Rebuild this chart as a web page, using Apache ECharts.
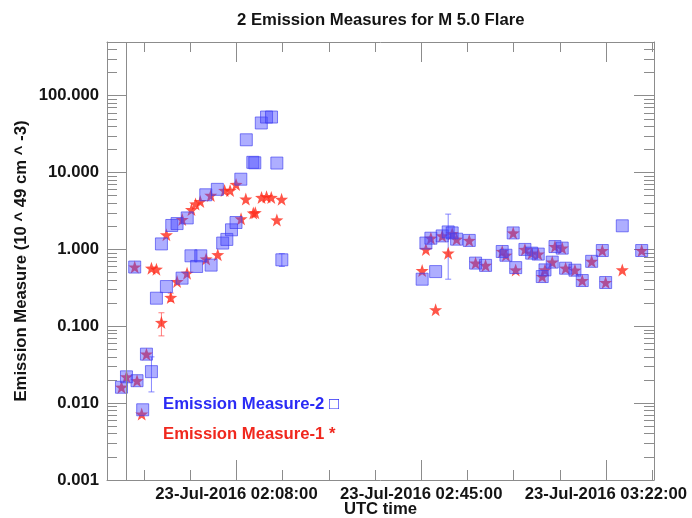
<!DOCTYPE html>
<html>
<head>
<meta charset="utf-8">
<script src="https://cdn.jsdelivr.net/npm/echarts@6/dist/echarts.min.js"></script>
<style>
  html, body { margin: 0; padding: 0; background: #ffffff; }
  #chart { width: 692px; height: 518px; }
</style>
</head>
<body>
<div id="chart"></div>
<script>
// Observation date and the UTC times of the major time ticks
const obsDate = '23-Jul-2016';
const xTickTimes = ['02:08:00', '02:45:00', '03:22:00'];
const yTickValues = [0.001, 0.01, 0.1, 1, 10, 100];

// Emission Measure-2 (squares), units of 10^49 cm^-3
const em2Times = [
  '01:44:58', '01:45:58', '01:47:37', '01:48:05', '01:49:13', '01:49:58', '01:50:58', '01:51:58',
  '01:52:58', '01:53:58', '01:55:02', '01:56:06', '01:57:06', '01:58:08', '01:58:53', '02:00:01',
  '02:00:51', '02:01:51', '02:02:55', '02:04:10', '02:05:14', '02:06:04', '02:07:00', '02:07:54',
  '02:08:52', '02:09:58', '02:11:16', '02:11:40', '02:12:58', '02:14:01', '02:15:01', '02:16:05',
  '02:17:05',
  '02:45:11', '02:45:56', '02:46:56', '02:47:53', '02:49:12', '02:50:24', '02:51:12', '02:52:05',
  '02:54:37', '02:55:53', '02:57:53', '03:01:13', '03:01:58', '03:03:25', '03:03:55', '03:05:46',
  '03:07:07', '03:08:26', '03:09:14', '03:09:47', '03:11:14', '03:11:47', '03:13:14', '03:13:55',
  '03:15:47', '03:17:15', '03:19:08', '03:21:16', '03:21:56', '03:25:16', '03:29:09'
];
const em2Values = [
  0.0161, 0.022, 0.59, 0.0196, 0.0082, 0.0434, 0.0257, 0.232,
  1.18, 0.329, 2.05, 2.17, 0.423, 2.57, 0.826, 0.60,
  0.826, 5.14, 0.625, 6.05, 1.21, 1.35, 1.80, 2.24,
  8.2, 26.7, 13.6, 13.4, 44.2, 52.8, 52.8, 13.3,
  0.733,
  0.41, 1.21, 1.40, 0.515, 1.50, 1.69, 1.64, 1.36,
  1.31, 0.664, 0.62, 0.94, 0.84, 1.64, 0.58, 1.0,
  0.895, 0.87, 0.444, 0.542, 0.684, 1.09, 1.04, 0.57,
  0.537, 0.394, 0.70, 0.968, 0.371, 2.03, 0.968
];

// Emission Measure-1 (stars), units of 10^49 cm^-3
const em1Times = [
  '01:44:58', '01:45:58', '01:47:37', '01:48:05', '01:49:01', '01:49:58', '01:50:58', '01:51:58',
  '01:52:58', '01:53:58', '01:54:50', '01:56:06', '01:57:08', '01:58:06', '01:58:59', '01:59:48',
  '02:00:45', '02:01:55', '02:02:51', '02:04:15', '02:05:37', '02:06:43', '02:07:55', '02:08:55',
  '02:09:52', '02:11:22', '02:11:46', '02:13:01', '02:14:01', '02:14:58', '02:16:05', '02:17:02',
  '02:45:11', '02:45:56', '02:46:56', '02:47:53', '02:49:12', '02:50:24', '02:51:12', '02:52:05',
  '02:54:37', '02:55:53', '02:57:53', '03:01:13', '03:01:58', '03:03:25', '03:03:55', '03:05:46',
  '03:07:07', '03:08:26', '03:09:14', '03:09:47', '03:11:14', '03:11:47', '03:13:14', '03:13:55',
  '03:15:47', '03:17:15', '03:19:08', '03:21:16', '03:21:56', '03:25:16', '03:29:09'
];
const em1Values = [
  0.0161, 0.022, 0.59, 0.0196, 0.0072, 0.0434, 0.57, 0.553,
  0.112, 1.55, 0.237, 0.382, 2.45, 0.491, 3.3, 3.9,
  4.2, 0.752, 5.05, 0.855, 5.85, 5.85, 7.0, 2.5,
  4.52, 2.97, 3.0, 4.75, 4.85, 4.75, 2.42, 4.49,
  0.53, 1.0, 1.40, 0.164, 1.50, 0.895, 1.6, 1.36,
  1.31, 0.664, 0.62, 0.94, 0.84, 1.64, 0.54, 1.0,
  0.895, 0.87, 0.444, 0.542, 0.684, 1.09, 1.04, 0.57,
  0.537, 0.394, 0.70, 0.968, 0.371, 0.542, 0.968
];

// Uncertainty ranges drawn as error bars (series: 2 = squares, 1 = stars)
const errTimes = ['01:50:58', '01:52:58', '01:54:50', '02:17:05', '02:50:24'];
const errLow = [0.014, 0.075, 0.21, 0.60, 0.41];
const errHigh = [0.040, 0.150, 0.27, 0.88, 2.88];
const errSeries = [2, 1, 1, 2, 2];

// Reference time marked with a vertical line
const flareStart = '01:45:58';

// Time axis range
const axisStart = '01:42:04';
const axisEnd = '03:31:37';

function toMin(t) {
  const p = t.split(':').map(Number);
  return p[0] * 60 + p[1] + p[2] / 60;
}
function fmtTime(m) {
  const s = Math.round(m * 60);
  const hh = Math.floor(s / 3600), mm = Math.floor((s % 3600) / 60), ss = s % 60;
  const z = n => String(n).padStart(2, '0');
  return z(hh) + ':' + z(mm) + ':' + z(ss);
}

const xMajor = xTickTimes.map(toMin);
const xStep = (xMajor[1] - xMajor[0]) / 4;
const xMin = toMin(axisStart), xMax = toMin(axisEnd);
const xMinor = [];
for (let v = xMajor[0] - 8 * xStep; v <= xMax; v += xStep) {
  if (v >= xMin && Math.abs(((v - xMajor[0]) / xStep) % 4) > 1e-6) xMinor.push(v);
}
const yMin = 0.001, yMax = 500;
const yMinor = [];
yTickValues.concat([1000]).forEach(d => {
  for (let k = 2; k <= 9; k++) {
    const v = +(d * k).toPrecision(3);
    if (v <= yMax) yMinor.push(v);
  }
});

const FONT = 'Liberation Sans, Arial, Helvetica, sans-serif';
const AX = '#8c8c8c';
const BLUE = '#2b2bf5';
const RED = '#f0281e';
const labelStyle = { fontFamily: FONT, fontWeight: 'bold', fontSize: 16.7, color: '#141414' };

function xAxisDef(position, ticks, len, lineOn, labelOn) {
  return {
    type: 'value', position, min: xMin, max: xMax,
    axisLine: { show: lineOn, onZero: false, lineStyle: { color: AX, width: 1 } },
    axisTick: { show: true, inside: true, length: len, customValues: ticks, lineStyle: { color: AX, width: 1 } },
    axisLabel: labelOn
      ? Object.assign({ show: true, customValues: ticks, margin: 6, formatter: v => obsDate + ' ' + fmtTime(v) }, labelStyle)
      : { show: false },
    splitLine: { show: false }
  };
}
function yAxisDef(position, ticks, len, lineOn, labelOn) {
  return {
    type: 'log', logBase: 10, position, min: yMin, max: yMax,
    axisLine: { show: lineOn, onZero: false, lineStyle: { color: AX, width: 1 } },
    axisTick: { show: true, inside: true, length: len, customValues: ticks, lineStyle: { color: AX, width: 1 } },
    axisLabel: labelOn
      ? Object.assign({ show: true, customValues: ticks, margin: 8, formatter: v => Number(v).toFixed(3) }, labelStyle)
      : { show: false },
    splitLine: { show: false },
    minorTick: { show: false }
  };
}

const xAxes = [
  xAxisDef('bottom', xMajor, 20, true, true),
  xAxisDef('bottom', xMinor, 10, false, false),
  xAxisDef('top', xMajor, 20, true, false),
  xAxisDef('top', xMinor, 10, false, false)
];
Object.assign(xAxes[0], {
  name: 'UTC time', nameLocation: 'middle', nameGap: 21, nameMoveOverlap: false,
  nameTextStyle: { fontFamily: FONT, fontWeight: 'bold', fontSize: 16.7, color: '#141414' }
});
const yAxes = [
  yAxisDef('left', yTickValues, 20, true, true),
  yAxisDef('left', yMinor, 10, false, false),
  yAxisDef('right', yTickValues, 20, true, false),
  yAxisDef('right', yMinor, 10, false, false)
];
Object.assign(yAxes[0], {
  name: 'Emission Measure (10 ^ 49 cm ^ -3)', nameLocation: 'middle', nameRotate: 90, nameGap: 77,
  nameMoveOverlap: false,
  nameTextStyle: { fontFamily: FONT, fontWeight: 'bold', fontSize: 16.7, color: '#141414' }
});

const STAR = 'path://M10,0L12.35,6.76L19.51,6.91L13.8,11.24L15.88,18.09L10,14L4.12,18.09L6.2,11.24L0.49,6.91L7.65,6.76Z';

const chart = echarts.init(document.getElementById('chart'), null, { renderer: 'canvas' });
chart.setOption({
  animation: false,
  backgroundColor: '#ffffff',
  title: {
    text: '2 Emission Measures for M 5.0 Flare',
    left: 237, top: 12, padding: 0,
    textStyle: { fontFamily: FONT, fontWeight: 'bold', fontSize: 16.7, color: '#141414' }
  },
  grid: { left: 107, right: 38, top: 42, bottom: 38, containLabel: false, outerBoundsMode: 'none' },
  xAxis: xAxes,
  yAxis: yAxes,
  legend: {
    orient: 'vertical', left: 158, top: 396, padding: 0,
    itemWidth: 0, itemHeight: 14, itemGap: 12.4,
    icon: 'none', selectedMode: false,
    textStyle: { fontFamily: FONT, fontWeight: 'bold', fontSize: 16.7 },
    formatter: name => name === 'Emission Measure-2' ? name + ' \u25A1' : name + ' *',
    data: [
      { name: 'Emission Measure-2', textStyle: { color: BLUE } },
      { name: 'Emission Measure-1', textStyle: { color: RED } }
    ]
  },
  series: [
    {
      name: 'Error bars',
      type: 'custom', xAxisIndex: 0, yAxisIndex: 0, z: 1, silent: true,
      encode: { x: 0, y: [1, 2] },
      data: errTimes.map((t, i) => [toMin(t), errLow[i], errHigh[i], errSeries[i]]),
      renderItem: function (params, api) {
        const x = api.value(0);
        const lo = api.coord([x, api.value(1)]);
        const hi = api.coord([x, api.value(2)]);
        const stroke = api.value(3) === 2 ? 'rgba(95,95,255,0.75)' : 'rgba(255,80,80,0.75)';
        const cap = 3;
        const st = { stroke: stroke, lineWidth: 1 };
        return {
          type: 'group',
          children: [
            { type: 'line', shape: { x1: lo[0], y1: lo[1], x2: hi[0], y2: hi[1] }, style: st },
            { type: 'line', shape: { x1: lo[0] - cap, y1: lo[1], x2: lo[0] + cap, y2: lo[1] }, style: st },
            { type: 'line', shape: { x1: hi[0] - cap, y1: hi[1], x2: hi[0] + cap, y2: hi[1] }, style: st }
          ]
        };
      }
    },
    {
      name: 'Emission Measure-1',
      type: 'scatter', xAxisIndex: 0, yAxisIndex: 0, z: 2,
      symbol: STAR, symbolSize: 13,
      itemStyle: { color: '#ff2a1a' },
      emphasis: { disabled: true },
      data: em1Times.map((t, i) => [toMin(t), em1Values[i]]),
      markLine: {
        silent: true, symbol: 'none', animation: false,
        label: { show: false },
        lineStyle: { color: AX, width: 1, type: 'solid' },
        data: [{ xAxis: toMin(flareStart) }]
      }
    },
    {
      name: 'Emission Measure-2',
      type: 'scatter', xAxisIndex: 0, yAxisIndex: 0, z: 3,
      symbol: 'rect', symbolSize: 12,
      itemStyle: { color: 'rgba(70,70,255,0.55)', borderColor: 'rgba(60,60,240,0.8)', borderWidth: 1 },
      emphasis: { disabled: true },
      data: em2Times.map((t, i) => [toMin(t), em2Values[i]])
    }
  ]
});
</script>
</body>
</html>
